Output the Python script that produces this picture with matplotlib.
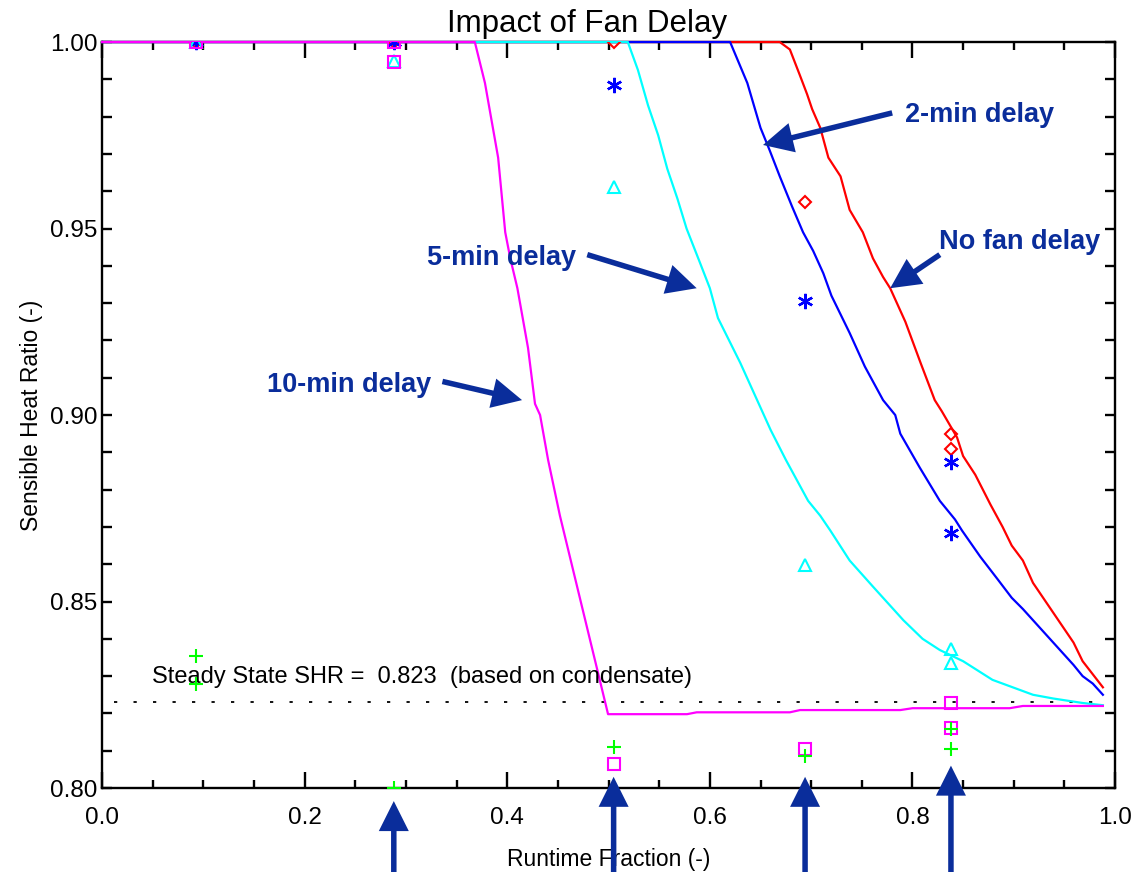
import numpy as np
import matplotlib
matplotlib.use("Agg")
import matplotlib.pyplot as plt
from matplotlib.ticker import MultipleLocator, FormatStrFormatter

plt.rcParams['font.family'] = ['Liberation Sans', 'DejaVu Sans']

# simulated SHR curves vs runtime fraction
rtf_nodelay = [0.0, 0.669, 0.679, 0.689, 0.696, 0.701, 0.709, 0.717, 0.729, 0.738,
               0.751, 0.761, 0.771, 0.778, 0.793, 0.808, 0.822, 0.829, 0.844, 0.850,
               0.862, 0.877, 0.889, 0.898, 0.909, 0.919, 0.939, 0.959, 0.968, 0.988]
shr_nodelay = [1.0, 1.0, 0.998, 0.991, 0.986, 0.982, 0.977, 0.969, 0.964, 0.955,
               0.949, 0.942, 0.937, 0.934, 0.925, 0.914, 0.904, 0.901, 0.894, 0.889,
               0.884, 0.876, 0.870, 0.865, 0.861, 0.855, 0.847, 0.839, 0.834, 0.827]

rtf_2min = [0.0, 0.620, 0.637, 0.650, 0.659, 0.669, 0.681, 0.692, 0.702, 0.712,
            0.720, 0.738, 0.753, 0.771, 0.783, 0.788, 0.807, 0.827, 0.842, 0.849,
            0.867, 0.884, 0.898, 0.909, 0.929, 0.939, 0.949, 0.959, 0.968, 0.978, 0.988]
shr_2min = [1.0, 1.0, 0.989, 0.977, 0.971, 0.964, 0.956, 0.949, 0.944, 0.938,
            0.932, 0.922, 0.913, 0.904, 0.900, 0.895, 0.886, 0.877, 0.872, 0.869,
            0.862, 0.856, 0.851, 0.848, 0.842, 0.839, 0.836, 0.833, 0.830, 0.828, 0.825]

rtf_5min = [0.0, 0.519, 0.529, 0.539, 0.549, 0.558, 0.568, 0.577, 0.590, 0.600,
            0.608, 0.630, 0.645, 0.660, 0.675, 0.687, 0.697, 0.709, 0.719, 0.738,
            0.761, 0.771, 0.791, 0.810, 0.827, 0.850, 0.879, 0.889, 0.899, 0.919,
            0.939, 0.968, 0.988]
shr_5min = [1.0, 1.0, 0.9925, 0.983, 0.975, 0.966, 0.958, 0.950, 0.941, 0.934,
            0.926, 0.914, 0.905, 0.896, 0.888, 0.882, 0.877, 0.873, 0.869, 0.861,
            0.854, 0.851, 0.845, 0.840, 0.837, 0.834, 0.829, 0.828, 0.827, 0.825,
            0.824, 0.8228, 0.8222]

rtf_10min = [0.0, 0.368, 0.378, 0.391, 0.398, 0.403, 0.410, 0.4205, 0.4274, 0.4324,
             0.4403, 0.452, 0.4995, 0.5775, 0.587, 0.679, 0.689, 0.788, 0.800, 0.896,
             0.909, 0.988]
shr_10min = [1.0, 1.0, 0.989, 0.969, 0.949, 0.942, 0.934, 0.918, 0.903, 0.900,
             0.888, 0.873, 0.8198, 0.8198, 0.8203, 0.8203, 0.8209, 0.8209, 0.8214, 0.8214,
             0.8220, 0.8220]

# measured points
meas_nodelay_x = [0.093, 0.288, 0.505, 0.694, 0.838, 0.838]
meas_nodelay_y = [1.0, 1.0, 1.0, 0.957, 0.895, 0.891]
meas_2min_x = [0.093, 0.288, 0.505, 0.694, 0.838, 0.838]
meas_2min_y = [1.0, 1.0, 0.9885, 0.9307, 0.8873, 0.8683]
meas_5min_x = [0.093, 0.288, 0.505, 0.694, 0.838, 0.838]
meas_5min_y = [1.0, 0.995, 0.9612, 0.8597, 0.8372, 0.8335]
meas_10min_x = [0.093, 0.288, 0.288, 0.505, 0.694, 0.838, 0.838]
meas_10min_y = [1.0, 1.0, 0.9946, 0.8064, 0.8105, 0.8228, 0.8161]
meas_cond_x = [0.093, 0.093, 0.288, 0.505, 0.694, 0.838, 0.838]
meas_cond_y = [0.8353, 0.8278, 0.80, 0.811, 0.8086, 0.8158, 0.8104]

shr_ss = 0.823
test_rtf = [0.288, 0.505, 0.694, 0.838]
test_tip = [0.7965, 0.803, 0.803, 0.806]

navy = '#0a2d9b'

fig = plt.figure(figsize=(11.48, 8.72), dpi=100)
ax = fig.add_axes([0.0889, 0.0963, 0.8824, 0.8555])

for x, y, c in [(rtf_nodelay, shr_nodelay, '#ff0000'),
                (rtf_2min, shr_2min, '#0000ff'),
                (rtf_5min, shr_5min, '#00ffff'),
                (rtf_10min, shr_10min, '#ff00ff')]:
    ax.plot(x, y, color=c, lw=1.6, zorder=3, clip_on=False)

ax.plot(meas_nodelay_x, meas_nodelay_y, 'D', ms=6.5, mfc='none', mec='#ff0000', mew=1.5, zorder=4)
ax.plot(meas_2min_x, meas_2min_y, marker=(6, 2, 0), ls='none', ms=11, mec='#0000ff', mew=1.7, zorder=4)
ax.plot(meas_5min_x, meas_5min_y, '^', ms=9, mfc='none', mec='#00ffff', mew=1.5, zorder=4)
ax.plot(meas_10min_x, meas_10min_y, 's', ms=8.5, mfc='none', mec='#ff00ff', mew=1.5, zorder=4)
ax.plot(meas_cond_x, meas_cond_y, '+', ms=10.5, mec='#00ff00', mew=1.5, zorder=4)

# steady state SHR from condensate
ax.plot([0.012, 0.993], [shr_ss, shr_ss], color='black', lw=1.3, ls=(0, (1.8, 9)), zorder=2)
ax.text(0.049, 0.8297, 'Steady State SHR =  %.3f  (based on condensate)' % shr_ss,
        fontsize=17, va='center', ha='left')

ax.set_xlim(0, 1)
ax.set_ylim(0.80, 1.00)
ax.xaxis.set_major_locator(MultipleLocator(0.2))
ax.xaxis.set_minor_locator(MultipleLocator(0.05))
ax.yaxis.set_major_locator(MultipleLocator(0.05))
ax.yaxis.set_minor_locator(MultipleLocator(0.01))
ax.xaxis.set_major_formatter(FormatStrFormatter('%.1f'))
ax.yaxis.set_major_formatter(FormatStrFormatter('%.2f'))
ax.tick_params(which='both', direction='in', top=True, right=True, width=1.7, labelsize=17.5)
ax.tick_params(axis='x', which='major', length=11.5, pad=14)
ax.tick_params(axis='x', which='minor', length=5.5)
ax.tick_params(axis='y', which='both', length=7, pad=3.5)
for s in ax.spines.values():
    s.set_linewidth(1.7)

ax.set_title('Impact of Fan Delay', fontsize=22.5, pad=7, x=0.479)
ax.set_xlabel('Runtime Fraction (-)', fontsize=16.5, labelpad=13)
ax.set_ylabel('Sensible Heat Ratio (-)', fontsize=16.5, labelpad=5)

arrow = dict(arrowstyle='simple,head_length=0.6,head_width=0.6,tail_width=0.11',
             mutation_scale=36, fc=navy, ec='none', shrinkA=0, shrinkB=0)

# curve labels
labels = ['2-min delay', 'No fan delay', '5-min delay', '10-min delay']
label_pos = [(0.793, 0.9805), (0.826, 0.9465), (0.321, 0.942), (0.163, 0.908)]
arrow_tail = [(0.780, 0.981), (0.827, 0.943), (0.479, 0.943), (0.336, 0.909)]
arrow_tip = [(0.6525, 0.9724), (0.778, 0.934), (0.587, 0.934), (0.4146, 0.904)]
for lab, pos, tail, tip in zip(labels, label_pos, arrow_tail, arrow_tip):
    ax.text(pos[0], pos[1], lab, color=navy, fontsize=19.5, fontweight='bold',
            va='center', ha='left')
    ax.annotate('', xy=tip, xytext=tail, arrowprops=arrow)

# test points
for x, tip in zip(test_rtf, test_tip):
    ax.annotate('', xy=(x, tip), xytext=(x, 0.774), arrowprops=arrow,
                annotation_clip=False)

fig.savefig('out.png', dpi=100)
